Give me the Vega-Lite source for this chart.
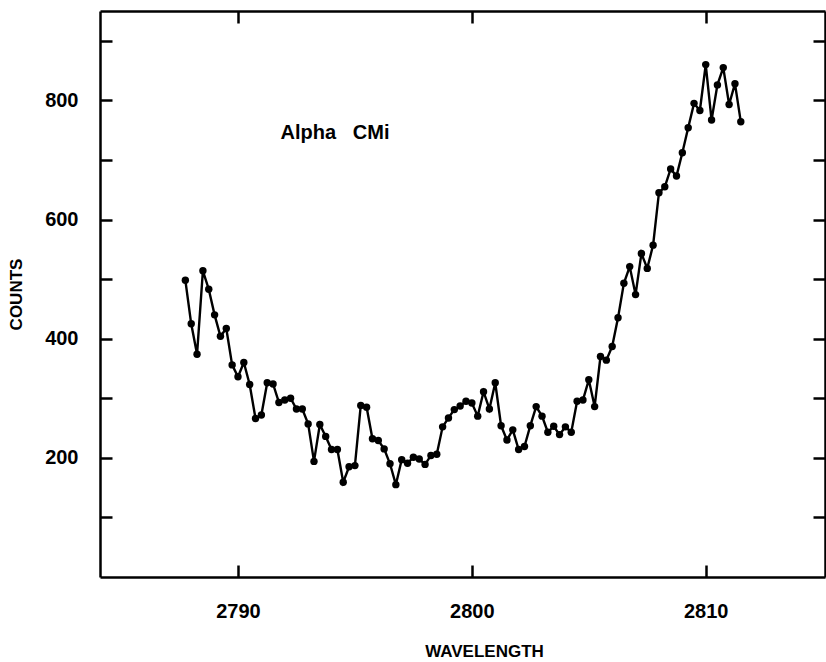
{
  "$schema": "https://vega.github.io/schema/vega-lite/v6.json",
  "width": 725,
  "height": 566,
  "autosize": {"type": "none"},
  "padding": {"left": 100, "top": 11, "right": 1, "bottom": 85},
  "background": "white",
  "config": {
    "view": {"stroke": null},
    "font": "Liberation Sans",
    "axis": {
      "domainColor": "black",
      "domainWidth": 2.5,
      "tickColor": "black",
      "tickWidth": 2.5,
      "tickSize": -12,
      "grid": false,
      "labelFont": "Liberation Sans",
      "labelFontWeight": "bold",
      "labelFontSize": 20,
      "labelColor": "black",
      "titleFont": "Liberation Sans",
      "titleFontWeight": "bold",
      "titleFontSize": 17,
      "titleColor": "black"
    }
  },
  "datasets": {
    "spectrum": [
      {"wavelength": 2787.75, "counts": 498},
      {"wavelength": 2788.00, "counts": 425},
      {"wavelength": 2788.25, "counts": 374},
      {"wavelength": 2788.50, "counts": 514},
      {"wavelength": 2788.75, "counts": 483},
      {"wavelength": 2789.00, "counts": 440},
      {"wavelength": 2789.25, "counts": 404},
      {"wavelength": 2789.50, "counts": 417},
      {"wavelength": 2789.75, "counts": 356},
      {"wavelength": 2790.00, "counts": 336},
      {"wavelength": 2790.25, "counts": 360},
      {"wavelength": 2790.50, "counts": 323},
      {"wavelength": 2790.75, "counts": 266},
      {"wavelength": 2791.00, "counts": 272},
      {"wavelength": 2791.25, "counts": 326},
      {"wavelength": 2791.50, "counts": 324},
      {"wavelength": 2791.75, "counts": 293},
      {"wavelength": 2792.00, "counts": 297},
      {"wavelength": 2792.25, "counts": 300},
      {"wavelength": 2792.50, "counts": 282},
      {"wavelength": 2792.75, "counts": 282},
      {"wavelength": 2793.00, "counts": 257},
      {"wavelength": 2793.25, "counts": 194},
      {"wavelength": 2793.50, "counts": 256},
      {"wavelength": 2793.75, "counts": 236},
      {"wavelength": 2794.00, "counts": 214},
      {"wavelength": 2794.25, "counts": 214},
      {"wavelength": 2794.50, "counts": 159},
      {"wavelength": 2794.75, "counts": 185},
      {"wavelength": 2795.00, "counts": 187},
      {"wavelength": 2795.25, "counts": 288},
      {"wavelength": 2795.50, "counts": 285},
      {"wavelength": 2795.75, "counts": 232},
      {"wavelength": 2796.00, "counts": 229},
      {"wavelength": 2796.25, "counts": 215},
      {"wavelength": 2796.50, "counts": 190},
      {"wavelength": 2796.75, "counts": 155},
      {"wavelength": 2797.00, "counts": 197},
      {"wavelength": 2797.25, "counts": 191},
      {"wavelength": 2797.50, "counts": 201},
      {"wavelength": 2797.75, "counts": 198},
      {"wavelength": 2798.00, "counts": 189},
      {"wavelength": 2798.25, "counts": 204},
      {"wavelength": 2798.50, "counts": 206},
      {"wavelength": 2798.75, "counts": 252},
      {"wavelength": 2799.00, "counts": 267},
      {"wavelength": 2799.25, "counts": 281},
      {"wavelength": 2799.50, "counts": 287},
      {"wavelength": 2799.75, "counts": 295},
      {"wavelength": 2800.00, "counts": 292},
      {"wavelength": 2800.25, "counts": 270},
      {"wavelength": 2800.50, "counts": 311},
      {"wavelength": 2800.75, "counts": 282},
      {"wavelength": 2801.00, "counts": 326},
      {"wavelength": 2801.25, "counts": 254},
      {"wavelength": 2801.50, "counts": 230},
      {"wavelength": 2801.75, "counts": 247},
      {"wavelength": 2802.00, "counts": 214},
      {"wavelength": 2802.25, "counts": 219},
      {"wavelength": 2802.50, "counts": 254},
      {"wavelength": 2802.75, "counts": 286},
      {"wavelength": 2803.00, "counts": 270},
      {"wavelength": 2803.25, "counts": 243},
      {"wavelength": 2803.50, "counts": 253},
      {"wavelength": 2803.75, "counts": 239},
      {"wavelength": 2804.00, "counts": 252},
      {"wavelength": 2804.25, "counts": 243},
      {"wavelength": 2804.50, "counts": 295},
      {"wavelength": 2804.75, "counts": 297},
      {"wavelength": 2805.00, "counts": 331},
      {"wavelength": 2805.25, "counts": 286},
      {"wavelength": 2805.50, "counts": 370},
      {"wavelength": 2805.75, "counts": 364},
      {"wavelength": 2806.00, "counts": 387},
      {"wavelength": 2806.25, "counts": 435},
      {"wavelength": 2806.50, "counts": 493},
      {"wavelength": 2806.75, "counts": 521},
      {"wavelength": 2807.00, "counts": 474},
      {"wavelength": 2807.25, "counts": 543},
      {"wavelength": 2807.50, "counts": 518},
      {"wavelength": 2807.75, "counts": 557},
      {"wavelength": 2808.00, "counts": 645},
      {"wavelength": 2808.25, "counts": 655},
      {"wavelength": 2808.50, "counts": 685},
      {"wavelength": 2808.75, "counts": 673},
      {"wavelength": 2809.00, "counts": 712},
      {"wavelength": 2809.25, "counts": 754},
      {"wavelength": 2809.50, "counts": 795},
      {"wavelength": 2809.75, "counts": 783},
      {"wavelength": 2810.00, "counts": 860},
      {"wavelength": 2810.25, "counts": 767},
      {"wavelength": 2810.50, "counts": 826},
      {"wavelength": 2810.75, "counts": 855},
      {"wavelength": 2811.00, "counts": 793},
      {"wavelength": 2811.25, "counts": 828},
      {"wavelength": 2811.50, "counts": 764}
    ],
    "labels": [
      {"wavelength": 2791.82, "counts": 745, "text": "Alpha\u00a0\u00a0\u00a0CMi"}
    ]
  },
  "resolve": {"axis": {"x": "independent", "y": "independent"}},
  "layer": [
    {
      "data": {"name": "spectrum"},
      "mark": {
        "type": "line",
        "color": "black",
        "strokeWidth": 2.4,
        "point": {"filled": true, "color": "black", "size": 55, "opacity": 1}
      },
      "encoding": {
        "x": {
          "field": "wavelength",
          "type": "quantitative",
          "scale": {"domain": [2784.1, 2815.1], "nice": false, "zero": false},
          "axis": {
            "orient": "bottom",
            "title": "WAVELENGTH",
            "titleX": 384,
            "values": [2790, 2800, 2810],
            "format": "d",
            "labelPadding": 36,
            "labelDx": 9,
            "titlePadding": 22
          }
        },
        "y": {
          "field": "counts",
          "type": "quantitative",
          "scale": {"domain": [0, 950], "nice": false},
          "axis": {
            "orient": "left",
            "title": "COUNTS",
            "values": [100, 200, 300, 400, 500, 600, 700, 800, 900],
            "labelExpr": "datum.value % 200 === 0 ? datum.label : ''",
            "labelPadding": 34,
            "titlePadding": 19
          }
        }
      }
    },
    {
      "data": {"name": "labels"},
      "mark": {
        "type": "text",
        "align": "left",
        "baseline": "middle",
        "font": "Liberation Sans",
        "fontWeight": "bold",
        "fontSize": 20,
        "color": "black"
      },
      "encoding": {
        "x": {
          "field": "wavelength",
          "type": "quantitative",
          "axis": {"orient": "top", "title": null, "labels": false, "values": [2790, 2800, 2810]}
        },
        "y": {
          "field": "counts",
          "type": "quantitative",
          "axis": {
            "orient": "right",
            "title": null,
            "labels": false,
            "values": [100, 200, 300, 400, 500, 600, 700, 800, 900]
          }
        },
        "text": {"field": "text"}
      }
    }
  ]
}
